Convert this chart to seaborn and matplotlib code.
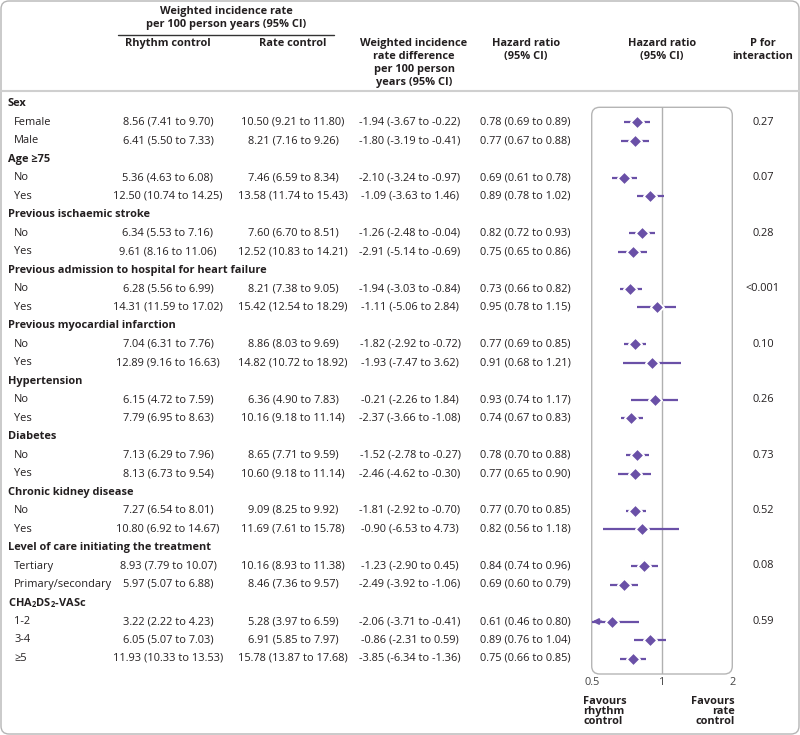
import matplotlib
matplotlib.use('Agg')
import matplotlib.pyplot as plt
import seaborn as sns
import pandas as pd
from matplotlib.patches import FancyBboxPatch
from matplotlib.ticker import NullLocator

# --- Data ---
group_names = [
    'Sex', 'Age ≥75', 'Previous ischaemic stroke',
    'Previous admission to hospital for heart failure',
    'Previous myocardial infarction', 'Hypertension', 'Diabetes',
    'Chronic kidney disease', 'Level of care initiating the treatment',
    'CHA$_2$DS$_2$-VASc',
]
subgroups = [
    ['Female', 'Male'], ['No', 'Yes'], ['No', 'Yes'], ['No', 'Yes'],
    ['No', 'Yes'], ['No', 'Yes'], ['No', 'Yes'], ['No', 'Yes'],
    ['Tertiary', 'Primary/secondary'], ['1-2', '3-4', '≥5'],
]
p_interaction = ['0.27', '0.07', '0.28', '<0.001', '0.10',
                 '0.26', '0.73', '0.52', '0.08', '0.59']

rhythm_est = [8.56, 6.41, 5.36, 12.50, 6.34, 9.61, 6.28, 14.31, 7.04, 12.89,
              6.15, 7.79, 7.13, 8.13, 7.27, 10.80, 8.93, 5.97, 3.22, 6.05, 11.93]
rhythm_lo = [7.41, 5.50, 4.63, 10.74, 5.53, 8.16, 5.56, 11.59, 6.31, 9.16,
             4.72, 6.95, 6.29, 6.73, 6.54, 6.92, 7.79, 5.07, 2.22, 5.07, 10.33]
rhythm_hi = [9.70, 7.33, 6.08, 14.25, 7.16, 11.06, 6.99, 17.02, 7.76, 16.63,
             7.59, 8.63, 7.96, 9.54, 8.01, 14.67, 10.07, 6.88, 4.23, 7.03, 13.53]

rate_est = [10.50, 8.21, 7.46, 13.58, 7.60, 12.52, 8.21, 15.42, 8.86, 14.82,
            6.36, 10.16, 8.65, 10.60, 9.09, 11.69, 10.16, 8.46, 5.28, 6.91, 15.78]
rate_lo = [9.21, 7.16, 6.59, 11.74, 6.70, 10.83, 7.38, 12.54, 8.03, 10.72,
           4.90, 9.18, 7.71, 9.18, 8.25, 7.61, 8.93, 7.36, 3.97, 5.85, 13.87]
rate_hi = [11.80, 9.26, 8.34, 15.43, 8.51, 14.21, 9.05, 18.29, 9.69, 18.92,
           7.83, 11.14, 9.59, 11.14, 9.92, 15.78, 11.38, 9.57, 6.59, 7.97, 17.68]

diff_est = [-1.94, -1.80, -2.10, -1.09, -1.26, -2.91, -1.94, -1.11, -1.82, -1.93,
            -0.21, -2.37, -1.52, -2.46, -1.81, -0.90, -1.23, -2.49, -2.06, -0.86, -3.85]
diff_lo = [-3.67, -3.19, -3.24, -3.63, -2.48, -5.14, -3.03, -5.06, -2.92, -7.47,
           -2.26, -3.66, -2.78, -4.62, -2.92, -6.53, -2.90, -3.92, -3.71, -2.31, -6.34]
diff_hi = [-0.22, -0.41, -0.97, 1.46, -0.04, -0.69, -0.84, 2.84, -0.72, 3.62,
           1.84, -1.08, -0.27, -0.30, -0.70, 4.73, 0.45, -1.06, -0.41, 0.59, -1.36]

hr = [0.78, 0.77, 0.69, 0.89, 0.82, 0.75, 0.73, 0.95, 0.77, 0.91,
      0.93, 0.74, 0.78, 0.77, 0.77, 0.82, 0.84, 0.69, 0.61, 0.89, 0.75]
hr_lo = [0.69, 0.67, 0.61, 0.78, 0.72, 0.65, 0.66, 0.78, 0.69, 0.68,
         0.74, 0.67, 0.70, 0.65, 0.70, 0.56, 0.74, 0.60, 0.46, 0.76, 0.66]
hr_hi = [0.89, 0.88, 0.78, 1.02, 0.93, 0.86, 0.82, 1.15, 0.85, 1.21,
         1.17, 0.83, 0.88, 0.90, 0.85, 1.18, 0.96, 0.79, 0.80, 1.04, 0.85]

# --- Style ---
sns.set_theme(style='white')
plt.rcParams['font.family'] = ['Open Sans', 'DejaVu Sans']
plt.rcParams['mathtext.fontset'] = 'custom'
plt.rcParams['mathtext.rm'] = 'Open Sans:bold'
plt.rcParams['mathtext.it'] = 'Open Sans:bold'
plt.rcParams['mathtext.bf'] = 'Open Sans:bold'

purple = '#6a50a7'
ink = '#231f20'
fs = 7.9     # body text
fsb = 7.9    # bold text

# --- Build row table ---
rows = []
k = 0
for g, (name, subs) in enumerate(zip(group_names, subgroups)):
    rows.append(dict(label=name, header=True, p=''))
    for j, s in enumerate(subs):
        rows.append(dict(
            label=s, header=False, p=p_interaction[g] if j == 0 else '',
            rhythm=f'{rhythm_est[k]:.2f} ({rhythm_lo[k]:.2f} to {rhythm_hi[k]:.2f})',
            rate=f'{rate_est[k]:.2f} ({rate_lo[k]:.2f} to {rate_hi[k]:.2f})',
            diff=f'{diff_est[k]:.2f} ({diff_lo[k]:.2f} to {diff_hi[k]:.2f})',
            hrtxt=f'{hr[k]:.2f} ({hr_lo[k]:.2f} to {hr_hi[k]:.2f})',
            hr=hr[k], lo=hr_lo[k], hi=hr_hi[k]))
        k += 1
df = pd.DataFrame(rows)
df['row'] = range(len(df))
est = df[~df['header']].copy()

row0, step = 103.5, 18.5   # pixel y of first row, row spacing


def ypix(r):
    return row0 + step * r


# --- Figure ---
fig = plt.figure(figsize=(8, 7.35), dpi=100)
bg = fig.add_axes([0, 0, 1, 1])
bg.set_xlim(0, 800)
bg.set_ylim(735, 0)
bg.axis('off')

bg.add_patch(FancyBboxPatch((1, 1), 798, 733, boxstyle='round,pad=0,rounding_size=8',
                            fc='none', ec='#b5b5b5', lw=1))
bg.plot([1, 799], [91, 91], color='#cfcfcf', lw=1.5)
bg.plot([118, 334], [35, 35], color='#333333', lw=1)

# column headers
hdr = dict(fontsize=fsb, fontweight='bold', color=ink, va='center', ha='center')
for txt, x, y in [('Weighted incidence rate', 226, 11.5),
                  ('per 100 person years (95% CI)', 226, 24),
                  ('Rhythm control', 168, 43), ('Rate control', 293, 43),
                  ('Weighted incidence', 414, 43), ('rate difference', 414, 56),
                  ('per 100 person', 414, 69), ('years (95% CI)', 414, 82),
                  ('Hazard ratio', 526, 43), ('(95% CI)', 526, 56),
                  ('Hazard ratio', 662, 43), ('(95% CI)', 662, 56),
                  ('P for', 763, 43), ('interaction', 763, 56)]:
    bg.text(x, y, txt, **hdr)

# table body
for _, r in df.iterrows():
    y = ypix(r['row'])
    if r['header']:
        bg.text(8, y, r['label'], fontsize=fsb, fontweight='bold', color=ink, va='center')
        continue
    bg.text(14, y, r['label'], fontsize=fs, color=ink, va='center')
    bg.text(168, y, r['rhythm'], fontsize=fs, color=ink, va='center', ha='center')
    bg.text(293, y, r['rate'], fontsize=fs, color=ink, va='center', ha='center')
    bg.text(410, y, r['diff'], fontsize=fs, color=ink, va='center', ha='center')
    bg.text(525, y, r['hrtxt'], fontsize=fs, color=ink, va='center', ha='center')
    if r['p']:
        bg.text(763, y, r['p'], fontsize=fs, color=ink, va='center', ha='center')

# --- Forest plot ---
box_l, box_r, box_t, box_b = 591.7, 732.3, 107.3, 674
bg.add_patch(FancyBboxPatch((box_l, box_t), box_r - box_l, box_b - box_t,
                            boxstyle='round,pad=0,rounding_size=8',
                            fc='none', ec='#b5b5b5', lw=1))

fx = fig.add_axes([box_l / 800, 1 - box_b / 735, (box_r - box_l) / 800, (box_b - box_t) / 735])
fx.patch.set_alpha(0)
for s in fx.spines.values():
    s.set_visible(False)
fx.set_xscale('log')
xmin, xmax = 0.5, 2
fx.set_xlim(xmin, xmax)
fx.set_ylim((box_b - row0) / step, (box_t - row0) / step)
fx.axvline(1, color='#b0b0b0', lw=1, zorder=1)

fx.hlines(est['row'], est['lo'].clip(lower=xmin), est['hi'], color=purple, lw=1.6, zorder=2)
for _, r in est[est['lo'] < xmin].iterrows():
    fx.annotate('', xy=(xmin * 1.005, r['row']), xytext=(xmin * 1.1, r['row']),
                arrowprops=dict(arrowstyle='-|>', color=purple, lw=1.6, mutation_scale=8,
                                shrinkA=0, shrinkB=0), annotation_clip=False)
sns.scatterplot(data=est, x='hr', y='row', marker='D', s=46, color=purple,
                edgecolor='white', linewidth=1.3, ax=fx, zorder=3, legend=False)

fx.set_xticks([0.5, 1, 2])
fx.set_xticklabels(['0.5', '1', '2'])
fx.xaxis.set_minor_locator(NullLocator())
fx.set_yticks([])
fx.tick_params(axis='x', which='both', length=0, pad=2.5, labelsize=fs, labelcolor='#444444')
fx.set_xlabel('')
fx.set_ylabel('')

fav = dict(fontsize=fsb, fontweight='bold', color=ink, va='center')
for txt, y in [('Favours', 701), ('rhythm', 711.5), ('control', 722)]:
    bg.text(583, y, txt, ha='left', **fav)
for txt, y in [('Favours', 701), ('rate', 711.5), ('control', 722)]:
    bg.text(735, y, txt, ha='right', **fav)

fig.savefig('out.png', dpi=100)
